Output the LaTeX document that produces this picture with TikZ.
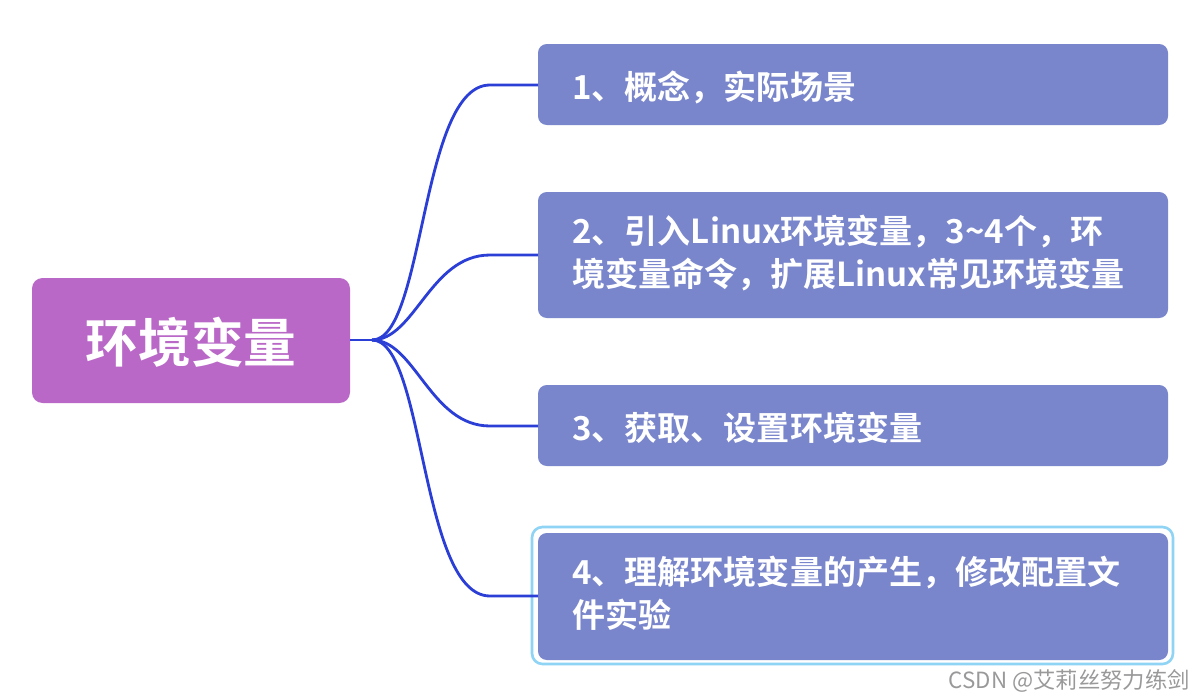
\documentclass[tikz,border=0pt]{standalone}
\usepackage{fontspec}
\newfontfamily\cjk{Noto Sans CJK SC}[BoldFont={Noto Sans CJK SC Bold}]
\definecolor{rootc}{HTML}{B968C7}
\definecolor{boxc}{HTML}{7986CB}
\definecolor{linec}{HTML}{2B3FD6}
\definecolor{selc}{HTML}{8FD3F5}
\begin{document}
\begin{tikzpicture}[x=0.02cm,y=-0.02cm,
  box/.style={fill=boxc,rounded corners=5pt,draw=none},
  lbl/.style={text=white,font=\cjk\bfseries\fontsize{18.8}{24.5}\selectfont,anchor=north west,align=left,inner sep=0pt},
  conn/.style={linec,line width=1.6pt}]
\useasboundingbox (0,0) rectangle (1194,700);
\fill[rootc,rounded corners=6pt] (32,278) rectangle (350,403);
\node[text=white,font=\cjk\bfseries\fontsize{30}{36}\selectfont] (root) at (191,342) {环境变量};
\coordinate (j) at (372,340);
\coordinate (r) at (350,340);
\draw[selc,line width=1.5pt,rounded corners=6pt] (532,527) rectangle (1173,664);
\fill[box] (538,44) rectangle (1168,125);
\fill[box] (538,192) rectangle (1168,318);
\fill[box] (538,385) rectangle (1168,466);
\fill[box] (538,533) rectangle (1168,660);
\node[lbl,anchor=west] (c1) at (572,87) {1、概念，实际场景};
\node[lbl] (c2) at (572,215) {2、引入Linux环境变量，3\textasciitilde4个，环\\境变量命令，扩展Linux常见环境变量};
\node[lbl,anchor=west] (c3) at (572,428) {3、获取、设置环境变量};
\node[lbl] (c4) at (572,556) {4、理解环境变量的产生，修改配置文\\件实验};
\coordinate (e1) at (538,85);
\coordinate (e2) at (538,255);
\coordinate (e3) at (538,426);
\coordinate (e4) at (538,596);
\draw[conn] (r) -- (j);
\draw[conn] (j) .. controls (425,340) and (420,85) .. (490,85) -- (e1);
\draw[conn] (j) .. controls (415,340) and (430,255) .. (490,255) -- (e2);
\draw[conn] (j) .. controls (415,340) and (430,426) .. (490,426) -- (e3);
\draw[conn] (j) .. controls (425,340) and (420,596) .. (490,596) -- (e4);
\node[anchor=east,text=gray!80,font=\cjk\fontsize{12.7}{15}\selectfont,inner sep=0pt] (wm) at (1190,681) {CSDN @艾莉丝努力练剑};
\end{tikzpicture}
\end{document}
